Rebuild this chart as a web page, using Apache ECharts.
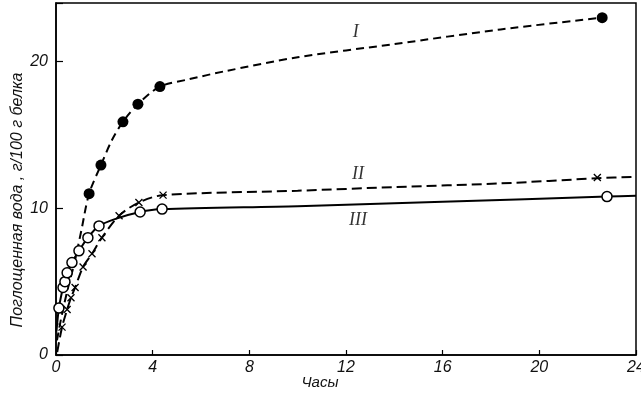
<!DOCTYPE html>
<html><head><meta charset="utf-8">
<script src="https://cdn.jsdelivr.net/npm/echarts@6/dist/echarts.min.js"></script>
<style>html,body{margin:0;padding:0;background:#fff}#c{width:641px;height:398px}</style>
</head><body><div id="c"></div>
<script>
// Axis ticks
const xTicks = [0, 4, 8, 12, 16, 20, 24];
const yTicks = [0, 10, 20];
// Curve I (filled circles, dashed)
const curveIX = [0.04, 0.25, 0.5, 0.75, 1.05, 1.37, 1.86, 2.3, 2.77, 3.39, 4.3, 5.5, 7, 10, 14, 18.4, 22.6];
const curveIY = [1.0, 2.8, 4.6, 6.2, 8.5, 11.0, 12.95, 14.6, 15.9, 17.1, 18.3, 18.8, 19.35, 20.3, 21.2, 22.2, 23.0];
const pointsIX = [1.37, 1.86, 2.77, 3.39, 4.3, 22.6];
const pointsIY = [11.0, 12.95, 15.9, 17.1, 18.3, 23.0];
// Curve II (crosses, dashed)
const curveIIX = [0.05, 0.25, 0.46, 0.62, 0.79, 1.12, 1.49, 1.9, 2.61, 3.43, 4.43, 10, 14, 18.4, 22.4, 24];
const curveIIY = [0.2, 1.9, 3.1, 3.9, 4.6, 6.0, 6.9, 8.0, 9.5, 10.4, 10.9, 11.2, 11.45, 11.7, 12.05, 12.15];
const pointsIIX = [0.25, 0.46, 0.62, 0.79, 1.12, 1.49, 1.9, 2.61, 3.43, 4.43, 22.4];
const pointsIIY = [1.9, 3.1, 3.9, 4.6, 6.0, 6.9, 8.0, 9.5, 10.4, 10.9, 12.1];
// Curve III (open circles, solid)
const curveIIIX = [0.02, 0.12, 0.29, 0.37, 0.46, 0.66, 0.95, 1.32, 1.78, 2.5, 3.48, 4.39, 10, 16, 22.8, 24];
const curveIIIY = [1.6, 3.2, 4.6, 5.0, 5.6, 6.3, 7.1, 8.0, 8.8, 9.3, 9.75, 9.95, 10.15, 10.45, 10.8, 10.85];
const pointsIIIX = [0.12, 0.29, 0.37, 0.46, 0.66, 0.95, 1.32, 1.78, 3.48, 4.39, 22.8];
const pointsIIIY = [3.2, 4.6, 5.0, 5.6, 6.3, 7.1, 8.0, 8.8, 9.75, 9.95, 10.8];
// Curve labels
const labelNames = ['I', 'II', 'III'];
const labelX = [12.4, 12.5, 12.5];
const labelY = [22.0, 12.3, 9.2];

const zip = (a, b) => a.map((v, i) => [v, b[i]]);
const chart = echarts.init(document.getElementById('c'), null, {renderer: 'canvas'});
const lab = {fontFamily: 'Liberation Sans', fontStyle: 'italic', fontSize: 16, color: '#111'};
chart.setOption({
  animation: false,
  backgroundColor: '#fff',
  grid: {left: 56, right: 5, top: 3, bottom: 43, containLabel: false, outerBoundsMode: 'none', show: true, borderColor: '#000', borderWidth: 1.5, backgroundColor: 'transparent'},
  xAxis: {
    type: 'value', min: xTicks[0], max: xTicks[xTicks.length - 1], interval: 4,
    axisLine: {lineStyle: {color: '#000', width: 1.5}},
    axisTick: {inside: true, length: 5, lineStyle: {color: '#000', width: 1.2}},
    axisLabel: Object.assign({margin: 5}, lab),
    splitLine: {show: false},
    name: 'Часы', nameLocation: 'middle', nameGap: 20, nameMoveOverlap: false,
    nameTextStyle: {fontFamily: 'Liberation Sans', fontStyle: 'italic', fontSize: 15, color: '#111', padding: [0, 52, 0, 0]}
  },
  yAxis: {
    type: 'value', min: 0, max: 24, interval: 10,
    axisLine: {lineStyle: {color: '#000', width: 1.5}},
    axisTick: {inside: true, length: 7, lineStyle: {color: '#000', width: 1.2}},
    axisLabel: Object.assign({margin: 8, formatter: v => yTicks.includes(v) ? String(v) : ''}, lab),
    splitLine: {show: false},
    name: 'Поглощенная вода , г/100 г белка', nameLocation: 'middle', nameGap: 30, nameRotate: 90, nameMoveOverlap: false,
    nameTextStyle: {fontFamily: 'Liberation Sans', fontStyle: 'italic', fontSize: 16, color: '#111', padding: [0, 42, 0, 0]}
  },
  series: [
    {type: 'line', data: zip(curveIX, curveIY), smooth: 0.3, showSymbol: false, lineStyle: {color: '#000', width: 2, type: [8, 5]}, z: 2},
    {type: 'line', data: zip(curveIIX, curveIIY), smooth: 0.3, showSymbol: false, lineStyle: {color: '#000', width: 2, type: [10, 5]}, z: 2},
    {type: 'line', data: zip(curveIIIX, curveIIIY), smooth: 0.3, showSymbol: false, lineStyle: {color: '#000', width: 2}, z: 2},
    {type: 'scatter', data: zip(pointsIX, pointsIY), symbol: 'circle', symbolSize: 11, itemStyle: {color: '#000', opacity: 1}, z: 5},
    {type: 'scatter', data: zip(pointsIIX, pointsIIY), symbol: 'path://M0,0L10,10M10,0L0,10', symbolSize: 7, itemStyle: {color: '#000', borderColor: '#000', borderWidth: 1.3, opacity: 1}, z: 5},
    {type: 'scatter', data: zip(pointsIIIX, pointsIIIY), symbol: 'circle', symbolSize: 10, itemStyle: {color: '#fff', borderColor: '#000', borderWidth: 1.5, opacity: 1}, z: 6},
    {type: 'scatter', data: labelNames.map((n, i) => ({value: [labelX[i], labelY[i]], name: n})), symbolSize: 0,
     label: {show: true, position: 'inside', formatter: p => p.name, fontFamily: 'Liberation Serif', fontStyle: 'italic', fontSize: 18, color: '#000'}, z: 7}
  ]
});
</script></body></html>
